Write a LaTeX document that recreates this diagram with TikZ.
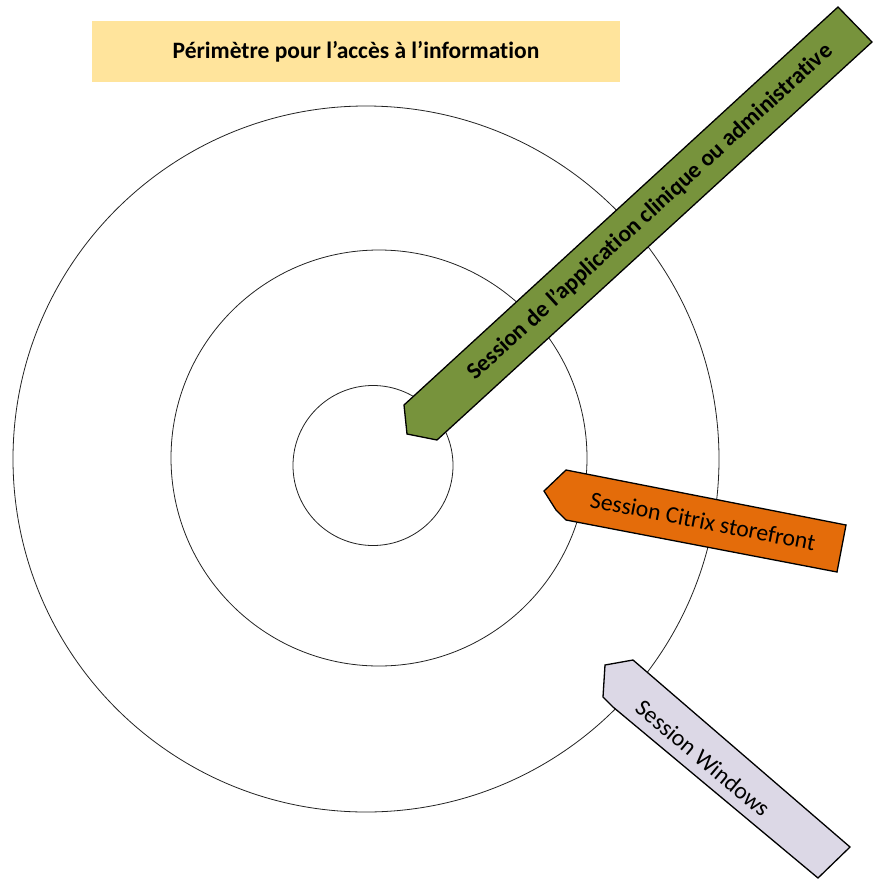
\documentclass[tikz,border=0pt]{standalone}
\usepackage{fontspec}
\setmainfont[Ligatures=NoCommon]{Carlito}
\definecolor{titlefill}{HTML}{FFE49C}
\definecolor{greenfill}{HTML}{77933C}
\definecolor{orangefill}{HTML}{E46C0A}
\definecolor{lavfill}{HTML}{DCD8E6}
\definecolor{ringcol}{HTML}{222222}
\begin{document}
\begin{tikzpicture}[x=1pt,y=-1pt,
  ring/.style={draw=ringcol,line width=0.8pt},
  banner/.style={draw=black,line width=1.3pt,line join=miter},
  lbl/.style={font=\fontsize{23.7}{26}\selectfont,text=black,inner sep=0pt}]
\useasboundingbox (0,0) rectangle (873,883);
% rings
\draw[ring] (366,459) circle (353);
\draw[ring] (379,458) circle (208);
\draw[ring] (373,465.5) circle (80);
% title
\node[fill=titlefill,minimum width=528pt,minimum height=61pt,inner sep=0pt,
      font=\fontsize{23.5}{26}\selectfont\bfseries] (title) at (356,51.5) {Périmètre pour l’accès à l’information};
% green banner
\draw[banner,fill=greenfill] (838,7) -- (872,42) -- (437,440) -- (407,434) -- (404,405) -- cycle;
\node[lbl,font=\fontsize{23.5}{26}\selectfont\bfseries,rotate=42.45] (app) at (650,212) {Session de l’application clinique ou administrative};
% orange banner
\draw[banner,fill=orangefill] (566,470) -- (846,525) -- (837,572) -- (566,520) -- (556,510) -- (544,491) -- cycle;
\node[lbl,rotate=-11] (citrix) at (703,521) {Session Citrix storefront};
% lavender banner
\draw[banner,fill=lavfill] (605,665) -- (633,660) -- (850,847) -- (818,878) -- (613,707) -- (603,697) -- cycle;
\node[lbl,rotate=-40] (win) at (703,758) {Session Windows};
\end{tikzpicture}
\end{document}
